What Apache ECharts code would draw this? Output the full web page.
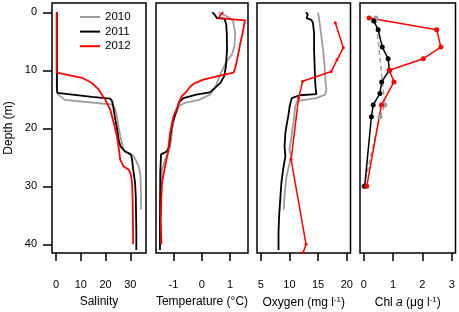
<!DOCTYPE html>
<html><head><meta charset="utf-8">
<script src="https://cdn.jsdelivr.net/npm/echarts@6/dist/echarts.min.js"></script>
<style>html,body{margin:0;padding:0;background:#fff}#c{width:459px;height:312px}</style>
</head><body><div id="c"></div>
<script>
const years = ['2010', '2011', '2012'];
const depthTicks = [0, 10, 20, 30, 40];
const salTicks = [0, 10, 20, 30];
const tempTicks = [-1, 0, 1];
const oxyTicks = [5, 10, 15, 20];
const chlTicks = [0, 1, 2, 3];

// Salinity
const salDepth2010 = [0,2,4,6,8,10,12,13,13.6,14.2,15.1,15.9,16.5,18,20,22,23.7,24.2,24.8,25.5,26.6,28,30,32,34];
const sal2010 = [0.3,0.3,0.3,0.3,0.3,0.3,0.3,0.3,0.4,0.9,3.5,22.5,23.8,24.6,25.3,26.3,27.3,29.0,31.3,32.2,33.4,34.0,34.2,34.3,34.3];
const salDepth2011 = [0,2,4,6,8,10,12,13,13.9,14.6,14.9,15.3,16,18,20,22,23.1,24,24.5,25.4,27,29.4,32,35,38,41];
const sal2011 = [0.4,0.4,0.4,0.4,0.4,0.4,0.4,0.4,0.5,14.5,21.9,22.6,23.0,23.7,24.6,25.3,26.0,27.8,30.2,30.7,31.1,31.9,32.2,32.3,32.4,32.4];
const salDepth2012 = [0,2,4,6,8,10,10.4,10.7,11.3,12.2,13.3,15.1,16.8,19.1,21.4,23.4,25.4,26.6,27.1,28,29.4,32,35,38,40];
const sal2012 = [0.3,0.3,0.3,0.3,0.3,0.3,0.4,1.1,10.5,14.5,17.2,19.9,21.9,23.3,24.6,25.3,25.9,27.3,29.3,30.2,30.7,30.9,31.0,31.1,31.1];

// Temperature
const tempDepth2010 = [0,0.5,1,1.5,3.6,5.9,7.3,8.4,9.6,10.7,13,14.2,15.1,15.6,16.2,18,20,22,24.2,25.4,27,30.6,34];
const temp2010 = [0.6,0.8,1.0,1.1,1.18,1.15,1.06,0.88,0.76,0.65,0.47,0.29,-0.1,-0.6,-0.82,-0.96,-1.04,-1.08,-1.18,-1.3,-1.4,-1.47,-1.48];
const tempDepth2011 = [0,0.4,1,1.1,2.1,3.6,6.4,9.3,11,12.2,13.3,13.8,14.2,14.8,15.5,17.3,19.1,21.4,23.1,24,24.5,27.7,30.6,36.3,41];
const temp2011 = [0.37,0.45,0.53,0.8,0.86,0.88,0.89,0.85,0.79,0.65,0.4,0.28,-0.2,-0.65,-0.8,-0.92,-1.04,-1.12,-1.15,-1.24,-1.44,-1.47,-1.47,-1.48,-1.48];
const tempDepth2012 = [0,0.5,1,1.4,2,3.6,5.3,7.6,9.6,10.4,10.7,10.9,11.6,12.2,12.8,13.6,14.5,15.6,16.2,17.9,20.8,24.2,26.6,29.4,33.4,36,40];
const temp2012 = [0.76,0.65,0.59,1.53,1.5,1.44,1.36,1.27,1.18,1.12,1.06,0.65,0.05,-0.24,-0.41,-0.53,-0.71,-0.82,-0.85,-1.0,-1.12,-1.2,-1.3,-1.41,-1.44,-1.45,-1.43];

// Oxygen
const oxyDepth2010 = [0,1.3,2.1,3.6,6.4,9.3,12.2,13.3,14.2,14.8,15.3,16.2,18.5,19.6,21.9,23.7,24.8,26.6,28.3,31.1,34];
const oxy2010 = [15.0,15.2,15.3,15.5,15.85,16.15,16.3,16.45,16.2,14.7,11.4,11.0,10.8,10.6,10.3,10.0,10.3,9.9,9.5,9.2,9.0];
const oxyDepth2011 = [0,0.4,1,1.3,1.8,2.1,3.6,6.4,9.3,12.2,13.3,13.6,14.1,14.3,14.8,15.1,16.2,17.9,19.5,20.8,23.1,23.7,24.8,27.1,29.4,32.3,35.2,38,41];
const oxy2011 = [12.9,13.2,13.0,13.8,14.1,14.4,14.3,14.3,14.4,14.5,14.6,14.9,14.7,11.8,10.4,10.2,10.05,9.8,9.5,9.3,9.15,9.2,9.3,8.9,8.6,8.4,8.2,8.1,8.1];
const oxyDepth2012 = [1.8,6.1,8.2,10.2,11.9,14.8,25.4,40,41.4];
const oxy2012 = [18.0,19.4,18.3,17.3,12.3,11.6,10.3,12.9,12.4];

// Chl a
const chlDepth2010 = [1,16,18,30];
const chl2010 = [0.41,0.72,0.55,0.0];
const chlDepth2011 = [1.5,3,6,8,10,12,14,16,18,30];
const chl2011 = [0.34,0.49,0.63,0.83,0.87,0.61,0.55,0.32,0.26,0.03];
const chlDepth2012 = [1,3,6,8,10,12,16,30];
const chl2012 = [0.18,2.49,2.63,2.03,0.87,1.03,0.6,0.1];

const colors = {'2010': '#9e9e9e', '2011': '#000000', '2012': '#ff0000'};
const FONT = 'Liberation Sans, Arial, Helvetica, sans-serif';

function zip(vals, depths) { return vals.map((v, i) => [v, depths[i]]); }

function ctd(name, idx, vals, depths) {
  return {
    type: 'line', name, xAxisIndex: idx, yAxisIndex: idx,
    data: zip(vals, depths), showSymbol: false, symbol: 'none',
    lineStyle: {color: colors[name], width: 1.8},
    itemStyle: {color: colors[name]}, z: 2
  };
}
function pts(name, idx, vals, depths, size, dashed) {
  return {
    type: 'line', name, xAxisIndex: idx, yAxisIndex: idx,
    data: zip(vals, depths), symbol: 'circle', symbolSize: size, showSymbol: true,
    lineStyle: {color: colors[name], width: 1.5, type: dashed ? [5, 3] : 'solid'},
    itemStyle: {color: colors[name]}, z: 3
  };
}

const grids = [
  {left: 52, width: 94},
  {left: 156, width: 92},
  {left: 257, width: 93.5},
  {left: 360, width: 95.5}
].map(g => Object.assign({top: 3, height: 250, show: true, borderColor: '#000', borderWidth: 1.5,
  backgroundColor: 'transparent', containLabel: false, outerBoundsMode: 'none'}, g));

function xAx(idx, min, max, ticks, name) {
  return {
    type: 'value', gridIndex: idx, min, max, position: 'bottom',
    axisLine: {show: false, onZero: false}, splitLine: {show: false},
    axisTick: {show: true, inside: false, length: 8, customValues: ticks, lineStyle: {color: '#000', width: 1.5}},
    axisLabel: {show: true, customValues: ticks, margin: 26, fontSize: 11, color: '#000', fontFamily: FONT},
    name, nameLocation: 'middle', nameGap: 43,
    nameTextStyle: {fontSize: 12, color: '#000', fontFamily: FONT,
      rich: {
        n: {fontSize: 12, color: '#000', fontFamily: FONT, lineHeight: 14},
        i: {fontSize: 12, color: '#000', fontFamily: FONT, fontStyle: 'italic', lineHeight: 14},
        s: {fontSize: 8, color: '#000', fontFamily: FONT, lineHeight: 8, verticalAlign: 'top'}
      }}
  };
}
function yAx(idx, shown) {
  return {
    type: 'value', gridIndex: idx, min: -1.6, max: 41.5, inverse: true, position: 'left',
    axisLine: {show: false, onZero: false}, splitLine: {show: false},
    axisTick: {show: shown, inside: false, length: 9, customValues: depthTicks, lineStyle: {color: '#000', width: 1.5}},
    axisLabel: {show: shown, customValues: depthTicks, margin: 15, fontSize: 11, color: '#000', fontFamily: FONT},
    name: shown ? 'Depth (m)' : '', nameLocation: 'middle', nameRotate: 90, nameGap: 37,
    nameTextStyle: {fontSize: 12, color: '#000', fontFamily: FONT}
  };
}

const option = {
  animation: false,
  backgroundColor: '#fff',
  grid: grids,
  xAxis: [
    xAx(0, -1.6, 36.3, salTicks, 'Salinity'),
    xAx(1, -1.62, 1.63, tempTicks, 'Temperature (°C)'),
    xAx(2, 4.35, 20.65, oxyTicks, '{n|Oxygen (mg l}{s|-1}{n|)}'),
    xAx(3, -0.13, 3.13, chlTicks, '{n|Chl }{i|a}{n| (μg l}{s|-1}{n|)}')
  ],
  yAxis: [yAx(0, true), yAx(1, false), yAx(2, false), yAx(3, false)],
  legend: {
    data: years, orient: 'vertical', left: 75, top: 6, itemGap: 2.6,
    icon: 'rect', itemWidth: 20, itemHeight: 2,
    textStyle: {fontSize: 11.5, color: '#000', fontFamily: FONT}
  },
  series: [
    ctd('2010', 0, sal2010, salDepth2010),
    ctd('2011', 0, sal2011, salDepth2011),
    ctd('2012', 0, sal2012, salDepth2012),
    ctd('2010', 1, temp2010, tempDepth2010),
    ctd('2011', 1, temp2011, tempDepth2011),
    ctd('2012', 1, temp2012, tempDepth2012),
    ctd('2010', 2, oxy2010, oxyDepth2010),
    ctd('2011', 2, oxy2011, oxyDepth2011),
    pts('2012', 2, oxy2012, oxyDepth2012, 3, false),
    pts('2010', 3, chl2010, chlDepth2010, 5, true),
    pts('2011', 3, chl2011, chlDepth2011, 5, false),
    pts('2012', 3, chl2012, chlDepth2012, 5, false)
  ]
};
echarts.init(document.getElementById('c'), null, {renderer: 'canvas'}).setOption(option);
</script>
</body></html>
